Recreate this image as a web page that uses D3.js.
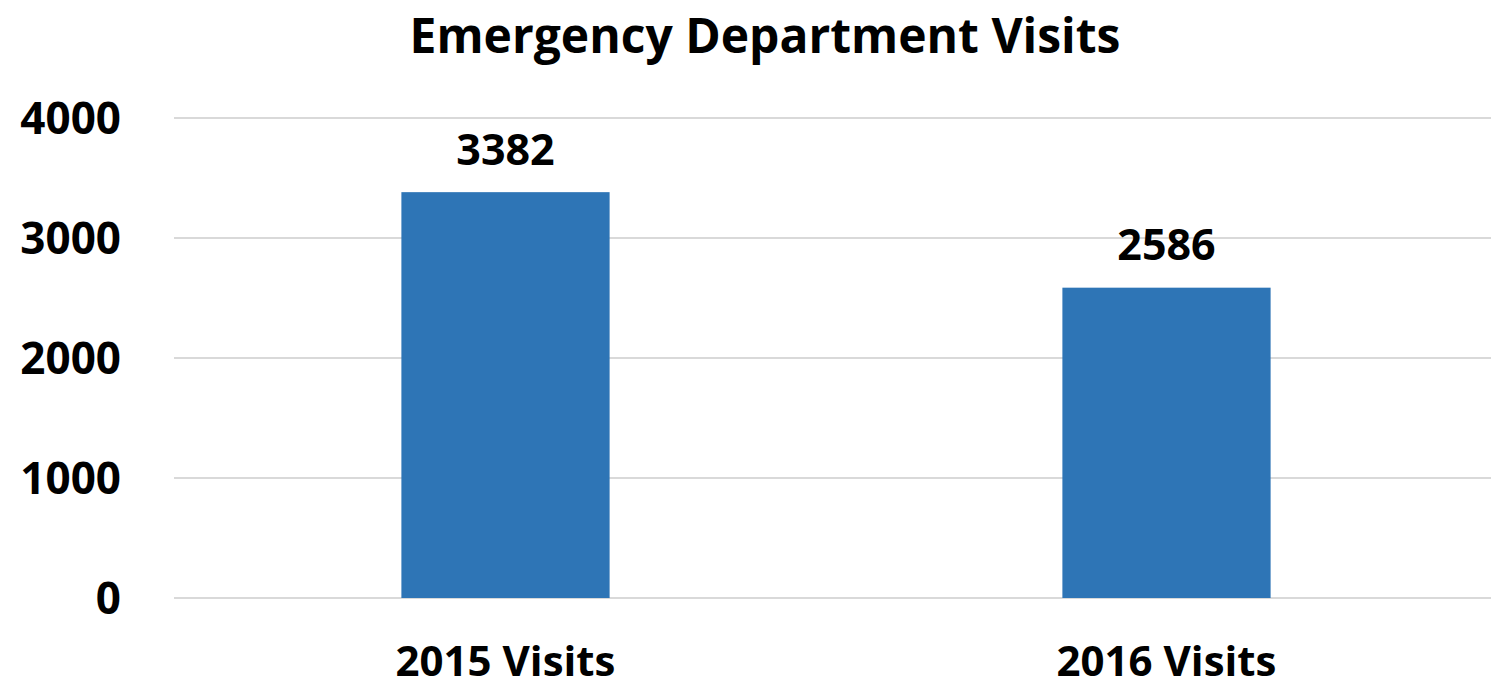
<!DOCTYPE html>
<html lang="en">
<head>
    <meta charset="UTF-8">
    <title>Emergency Department Visits</title>
    <script src="https://cdn.jsdelivr.net/npm/d3@7"></script>
    <style>
        body { margin: 0; background: #fff; }
        text { font-family: "Open Sans", "Noto Sans", sans-serif; font-weight: bold; fill: #000; }
    </style>
</head>
<body>
</body>
<script>
    const categories = ["2015 Visits", "2016 Visits"];
    const visits = [3382, 2586];
    const yTicks = [0, 1000, 2000, 3000, 4000];

    const width = 1491;
    const height = 689;

    const svg = d3.select("body")
        .append("svg")
        .attr("width", width)
        .attr("height", height);

    const x = d3.scaleBand()
        .domain(categories)
        .range([175, 1497])
        .paddingInner(0.685)
        .paddingOuter(0.3425);

    const y = d3.scaleLinear()
        .domain([0, 4000])
        .range([598, 118]);

    // gridlines
    svg.append("g")
        .selectAll("line")
        .data(yTicks)
        .enter()
        .append("line")
        .attr("x1", 174)
        .attr("x2", width)
        .attr("y1", d => y(d))
        .attr("y2", d => y(d))
        .attr("stroke", "#d9d9d9")
        .attr("stroke-width", 2);

    // y tick labels
    svg.append("g")
        .selectAll("text")
        .data(yTicks)
        .enter()
        .append("text")
        .attr("x", 121)
        .attr("y", d => y(d))
        .attr("dy", "0.36em")
        .attr("text-anchor", "end")
        .style("font-size", "44px")
        .text(d => d);

    // bars
    svg.append("g")
        .selectAll("rect")
        .data(visits)
        .enter()
        .append("rect")
        .attr("x", (d, i) => x(categories[i]))
        .attr("y", d => y(d))
        .attr("width", x.bandwidth())
        .attr("height", d => y(0) - y(d))
        .attr("fill", "#2e75b6");

    // value labels
    svg.append("g")
        .selectAll("text")
        .data(visits)
        .enter()
        .append("text")
        .attr("x", (d, i) => x(categories[i]) + x.bandwidth() / 2)
        .attr("y", d => y(d) - 43)
        .attr("dy", "0.36em")
        .attr("text-anchor", "middle")
        .style("font-size", "43px")
        .text(d => d);

    // category labels
    svg.append("g")
        .selectAll("text")
        .data(categories)
        .enter()
        .append("text")
        .attr("x", d => x(d) + x.bandwidth() / 2)
        .attr("y", 676)
        .attr("text-anchor", "middle")
        .style("font-size", "42px")
        .text(d => d);

    // title
    svg.append("text")
        .attr("x", 765)
        .attr("y", 53)
        .attr("text-anchor", "middle")
        .style("font-size", "48px")
        .text("Emergency Department Visits");
</script>
</html>
